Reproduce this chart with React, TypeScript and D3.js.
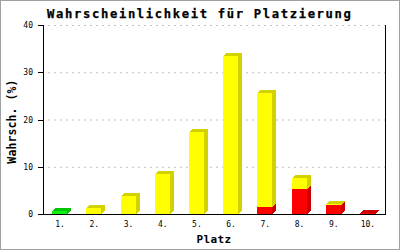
import React from "react";
import * as d3 from "d3";

const categories = ["1.", "2.", "3.", "4.", "5.", "6.", "7.", "8.", "9.", "10."];
const redValues = [0, 0, 0, 0, 0, 0, 1.5, 5.3, 2.0, 0.3];
const yellowValues = [0, 1.35, 3.87, 8.55, 17.4, 33.5, 24.1, 2.3, 0.1, 0];
const greenValues = [0.6, 0, 0, 0, 0, 0, 0, 0, 0, 0];
const yTicks = [0, 10, 20, 30, 40];

const W = 400;
const H = 250;
const left = 43;
const right = 385;
const yBottom = 214.5;
const yTop = 25.5;

const series = [
  { values: redValues, front: "#ff0000", dark: "#cc0000" },
  { values: yellowValues, front: "#ffff00", dark: "#d2d200" },
  { values: greenValues, front: "#11ee11", dark: "#00c400" },
];

export default function App() {
  const x = d3.scaleBand<string>().domain(categories).range([left, right]).padding(0);
  const y = d3.scaleLinear().domain([0, 40]).range([yBottom - 0.5, yTop - 0.5]);
  const bw = x.bandwidth();
  const fw = 15;
  const dx = 4;
  const dy = 3;
  const stacked = d3.stack<number>().keys(series.map((_, i) => String(i)))
    .value((d, k) => series[+k].values[d])(categories.map((_, i) => i));

  const bars: React.ReactNode[] = [];
  categories.forEach((c, ci) => {
    const x0 = Math.round(x(c)! + bw / 2 - 8);
    const x1 = x0 + fw;
    series.forEach((s, si) => {
      const v = s.values[ci];
      if (v <= 0) return;
      const seg = stacked[si][ci];
      const yb = Math.round(y(seg[0]));
      const yt = y(seg[1]);
      const ytr = Math.round(yt);
      bars.push(
        <g key={`${ci}-${si}`}>
          <polygon
            points={`${x1},${yb} ${x1 + dx},${yb - dy} ${x1 + dx},${ytr - dy} ${x1},${ytr}`}
            fill={s.dark}
          />
          <polygon
            points={`${x0},${ytr} ${x0 + dx},${ytr - dy} ${x1 + dx},${ytr - dy} ${x1},${ytr}`}
            fill={s.dark}
          />
          <rect x={x0} y={ytr} width={fw} height={Math.max(0, yb - ytr)} fill={s.front} />
        </g>
      );
    });
  });

  const mono = "'DejaVu Sans Mono', monospace";

  return (
    <svg width={W} height={H} style={{ position: "absolute", left: 0, top: 0 }}
      xmlns="http://www.w3.org/2000/svg">
      <rect x={0} y={0} width={W} height={H} fill="#ffffff" />
      <rect x={0.5} y={0.5} width={W - 1} height={H - 1} fill="none" stroke="#a0a0a0" />
      <text x={47} y={17.5} fontFamily={mono} fontWeight="bold" fontSize={12.2}
        letterSpacing={1.65} fill="#000" stroke="#000" strokeWidth={0.25}>Wahrscheinlichkeit für Platzierung</text>
      {yTicks.filter((t) => t > 0).map((t) => (
        <line key={`g${t}`} x1={48} x2={right} y1={y(t) + 0.5} y2={y(t) + 0.5}
          stroke="#c0c0c0" strokeDasharray="2 4" />
      ))}
      <g shapeRendering="crispEdges">{bars}</g>
      <g shapeRendering="crispEdges" stroke="#000">
        <line x1={left + 0.5} x2={left + 0.5} y1={yTop - 0.5} y2={yBottom + 0.5} />
        <line x1={right + 0.5} x2={right + 0.5} y1={yTop - 0.5} y2={yBottom + 0.5} />
        <line x1={left} x2={right + 1} y1={yBottom} y2={yBottom} />
        {yTicks.map((t) => (
          <line key={`t${t}`} x1={38} x2={left} y1={y(t) + 0.5} y2={y(t) + 0.5} />
        ))}
      </g>
      {yTicks.map((t) => (
        <text key={`l${t}`} x={33} y={y(t) + 3} textAnchor="end" fontFamily={mono}
          fontSize={8} fill="#000">{t}</text>
      ))}
      {categories.map((c) => (
        <text key={`c${c}`} x={x(c)! + bw / 2} y={226.5} textAnchor="middle"
          fontFamily={mono} fontSize={8} fill="#000">{c}</text>
      ))}
      <text transform="translate(15.5,121.5) rotate(-90)" textAnchor="middle" fontFamily={mono}
        fontWeight="bold" fontSize={11.5} letterSpacing={0.1} fill="#000">Wahrsch. (%)</text>
      <text x={214} y={243} textAnchor="middle" fontFamily={mono} fontWeight="bold"
        fontSize={11} letterSpacing={0.4} fill="#000">Platz</text>
    </svg>
  );
}
